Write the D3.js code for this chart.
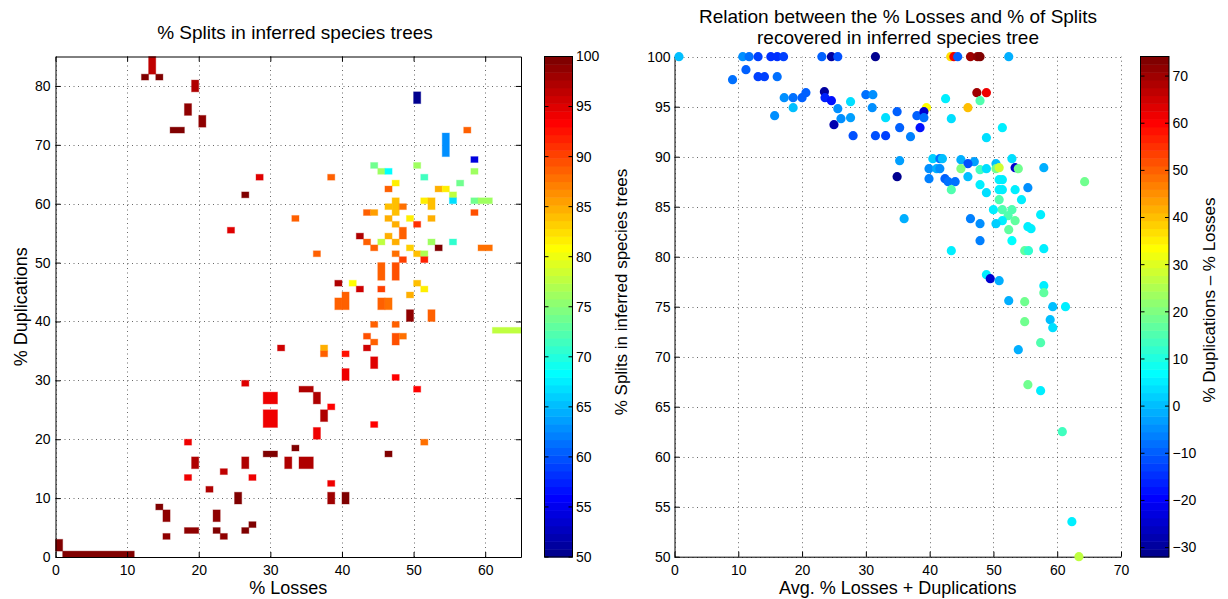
<!DOCTYPE html>
<html><head><meta charset="utf-8">
<script src="https://cdn.jsdelivr.net/npm/d3@7"></script>
<style>
body{margin:0;background:#fff;}
svg{display:block;font-family:"Liberation Sans",Arial,Helvetica,sans-serif;}
</style></head><body>
<svg id="chart" width="1228" height="599"></svg>
<script>
// ---------- DATA: left panel (cells of % Losses x % Duplications, coloured by % Splits) ----------
const cellLossLo = [13,12,14,19,18,20,16,28,26,24,50,57,54,58,44,45,46,50,51,38,47,46,53,54,56,55,55,58,59,58,51,52,47,48,46,43,44,33,46,49,52,58,47,50,48,42,46,43,45,47,44,49,52,53,55,59,36,47,50,51,48,51,45,47,39,41,42,45,50,51,49,40,39,45,46,49,52,44,47,43,47,48,44,43,31,37,37,40,44,40,47,50,34,36,38,37,44,36,51,33,46,32,34,38,38,40,61,26,29,29,29,26,23,27,18,19,18,21,25,14,15,22,18,22,26,27,15,23,1,0];
const cellLossHi = [14,13,15,20,19,21,18,29,27,25,51,58,55,59,45,46,47,51,52,39,48,47,54,55,57,56,56,59,61,59,52,53,48,49,47,44,45,34,47,50,53,59,48,51,49,43,47,44,46,48,45,50,53,54,56,61,37,48,51,52,49,52,46,48,40,42,43,46,51,52,50,41,40,46,47,50,53,45,48,44,48,49,45,44,32,38,38,41,45,41,48,51,36,37,39,38,45,37,52,34,47,33,36,39,39,41,65,27,31,31,31,27,24,28,19,20,19,22,26,15,16,23,20,23,27,28,16,24,11,1];
const cellDupLo  = [82,81,81,79,75,73,72,64,61,55,77,72,68,67,66,65,65,66,64,64,63,62,62,62,63,61,60,60,60,65,60,59,58,59,59,58,58,57,57,57,57,58,56,56,54,54,54,53,53,53,52,52,53,52,53,52,51,51,51,51,50,50,47,47,46,46,45,45,46,45,44,42,42,42,42,40,40,39,39,37,36,37,36,35,35,35,34,34,32,30,30,28,28,26,25,23,22,20,19,18,17,15,15,12,9,9,38,29,26,22,17,15,14,13,19,15,13,11,9,8,6,6,4,4,4,5,3,3,0,1];
const cellDupHi  = [85,82,82,81,77,75,73,65,62,56,79,73,72,68,67,66,66,67,65,65,64,63,63,63,64,62,61,61,61,66,61,61,61,60,60,59,59,58,58,58,58,59,57,57,56,55,55,54,54,54,53,53,54,53,54,53,52,52,52,52,51,51,50,50,47,47,46,46,47,46,45,45,44,44,44,42,42,40,40,38,38,38,37,36,36,36,35,35,34,32,31,29,29,28,26,25,23,22,20,19,18,17,17,13,11,11,39,30,28,25,18,17,15,14,20,17,14,12,11,9,8,8,5,5,5,6,4,4,1,3];
const cellSplits = [96.5,99.5,99.5,97.5,99,98.5,99.5,95,99.5,95,50,89,63,54,73.7,76,68,76.5,71.5,89,82,89,85,82,73.7,77.5,67,74,76,76,81.5,84,84,88,84,89,85.5,89,84.5,82,85,89.5,85,91,88.5,97,84.5,89,78,85,89,83.5,76,100,71,87.5,88.5,88,84,77,90,91.5,88.5,89.5,97,81,96,90.5,84,82,84.5,89,89,88.5,87.5,99,89,89,88.5,89.5,89.5,87.5,89,96,96,84.5,88.5,92.5,95,94.5,93,93,97,97.5,93,97,93,94,87.5,99.5,99.5,97,97,94,98,99.5,78,95,94,94.5,99.5,97,96.5,94,94,97,94,97.5,100,99.5,99,99,99,99.5,99.5,100,98.5,98.5,100,99.5];

// ---------- DATA: right panel (scatter) ----------
const ptAvgLossDup = [0.7,10.7,11.7,13.1,15.1,16.1,17.1,23.1,24.6,25.6,31.5,11.2,9.1,13.1,14.1,16.1,17.2,18.6,20.0,20.6,18.6,15.7,23.5,23.6,24.6,25.6,27.6,26.1,27.6,25.0,28.0,30.0,31.1,31.0,33.1,31.5,33.1,34.9,35.3,35.3,34.9,
  43.3,43.8,44.4,46.4,47.5,47.9,52.4,47.4,48.9,42.5,47.9,39.5,46.0,38.0,39.1,39.1,43.4,38.5,37.0,51.4,48.9,40.5,41.6,42.0,44.9,47.0,46.0,50.4,52.9,39.9,41.1,41.6,44.9,47.9,48.9,50.4,50.9,53.4,53.9,57.9,39.9,42.4,42.9,44.0,43.4,46.0,47.9,48.9,50.9,51.4,50.9,51.4,53.4,55.4,50.9,54.4,64.3,50.0,51.4,52.9,57.4,52.3,51.4,53.4,50.4,47.9,46.4,36.0,55.4,55.9,52.4,
  47.9,52.9,43.4,54.9,55.5,57.9,48.9,49.5,50.9,57.9,57.9,52.4,54.9,59.3,61.3,58.9,59.3,54.9,57.4,53.9,55.4,57.4,60.8,62.3,63.4];
const ptSplits = [100,100,100,100,100,100,100,100,100,100,100,98.7,97.7,98.0,98.0,98.0,95.9,95.9,95.9,96.4,94.9,94.1,96.5,95.9,95.6,94.8,95.5,93.8,93.9,93.2,92.1,96.2,96.2,94.9,93.9,92.1,92.1,94.5,92.9,89.6,88.0,
  100,100,100,100,100,100,100,96.4,96.4,95.8,95.6,94.9,94.9,94.1,94.5,93.9,93.8,92.9,92.0,92.9,91.9,89.8,89.8,89.8,89.7,89.5,89.3,89.3,89.8,88.8,88.8,88.8,88.8,88.7,88.8,88.8,88.9,88.9,88.8,88.9,87.8,87.8,87.5,87.5,86.7,88.0,87.2,86.4,87.7,87.7,86.7,86.7,86.7,86.9,85.7,85.7,87.5,84.7,84.7,84.7,84.2,84.1,83.6,83.6,83.3,83.3,83.8,83.8,83.0,82.8,82.7,
  81.6,81.6,80.6,80.6,80.6,80.8,78.2,77.8,77.6,77.1,76.4,75.6,75.5,75.0,75.0,73.7,72.9,73.5,71.4,70.7,67.2,66.6,62.5,53.5,50.0];
const ptDupMinusLoss = [1.0,-5.2,-8.3,-12.5,-14.6,-14.6,-12.5,-10.4,-30,-11.4,-31,-9.4,-8.3,-13.5,-13.5,-8.3,-5.2,-7.2,-10.4,-10.4,0,-4.2,-30,-16,-18,-5.2,4.2,-5.2,-3.1,-28.5,-11.4,-7.2,-5.2,-4.2,4.2,-11.4,-13.5,-9.4,-9.4,-3,-32,
  37,60.9,-10.4,70,72,74.15,-2,70,60.9,5.2,15,32.8,40.2,-10.4,-24.5,-8.3,4.2,-18.7,-6,5.2,3.1,2,-8.3,0,-2,-3.1,-12,1,4.2,-4.2,-1,-5.2,21,14,3.1,18.2,28.5,-24.5,18.2,-2,-6,-10,-8.3,-7.2,15,0,5.2,3.1,5.2,5.2,5.2,5.2,5.2,-4.2,15,5.2,18.2,5.2,15,15,5.2,15,5.2,16.1,2,-4.2,-6,-2,5.2,5.2,16.1,
  -6,6.2,5.2,16.1,12,5.2,5.2,-24.5,-1,5.2,16.1,-2,18.2,0,5.2,1,4.2,18.2,15,-2,18.2,5.2,14,5.2,27.6];

// ---------- tick values / labels ----------
const leftXTicks = [0,10,20,30,40,50,60];
const leftYTicks = [0,10,20,30,40,50,60,70,80];
const splitBarTicks = [50,55,60,65,70,75,80,85,90,95,100];
const rightXTicks = [0,10,20,30,40,50,60,70];
const rightYTicks = [50,55,60,65,70,75,80,85,90,95,100];
const diffBarTicks = [-30,-20,-10,0,10,20,30,40,50,60,70];
const leftTitle = "% Splits in inferred species trees";
const rightTitle = ["Relation between the % Losses and % of Splits","recovered in inferred species tree"];

// ---------- MATLAB jet(64) ----------
function jet64(){
  const n=64, m=16, u=[];
  for(let i=1;i<=m;i++)u.push(i/m);
  for(let i=0;i<m-1;i++)u.push(1);
  for(let i=m;i>=1;i--)u.push(i/m);
  const J=Array.from({length:n},()=>[0,0,0]);
  u.forEach((val,k)=>{const g=8+k+1, r=g+m, b=g-m;
    if(g>=1&&g<=n)J[g-1][1]=val; if(r>=1&&r<=n)J[r-1][0]=val; if(b>=1&&b<=n)J[b-1][2]=val;});
  return J.map(c=>d3.rgb(Math.round(c[0]*255),Math.round(c[1]*255),Math.round(c[2]*255)).formatHex());
}
const JET = jet64();

const svg = d3.select("#chart");
const FONT = "'Liberation Sans',Arial,Helvetica,sans-serif";
const TICKFS = 14;

function styleAxis(g){
  g.attr("font-family",FONT).attr("font-size",TICKFS);
  g.selectAll(".domain").attr("stroke","#000").attr("stroke-width",1);
  g.selectAll(".tick line").attr("stroke","#000").attr("stroke-width",1);
  g.selectAll(".tick text").attr("fill","#000");
}
function grid(g, xs, ys, xt, yt){
  const [x0,x1]=xs.range(), [y0,y1]=ys.range();
  g.selectAll("line.gx").data(xt).join("line").attr("class","gx")
    .attr("x1",d=>Math.round(xs(d))+0.5).attr("x2",d=>Math.round(xs(d))+0.5).attr("y1",y0).attr("y2",y1);
  g.selectAll("line.gy").data(yt).join("line").attr("class","gy")
    .attr("y1",d=>Math.round(ys(d))+0.5).attr("y2",d=>Math.round(ys(d))+0.5).attr("x1",x0).attr("x2",x1);
  g.selectAll("line").attr("stroke","#444").attr("stroke-width",1).attr("stroke-dasharray","1,3.5").attr("opacity",0.8);
}

// ================= LEFT PANEL =================
const xL = d3.scaleLinear().domain([0,65]).range([55.5,521]);
const yL = d3.scaleLinear().domain([0,85]).range([557,56.5]);
const cL = d3.scaleQuantize().domain(d3.extent(cellSplits)).range(JET);

grid(svg.append("g"), xL, yL, leftXTicks, leftYTicks);

const cells = cellSplits.map((v,i)=>({x0:cellLossLo[i],x1:cellLossHi[i],y0:cellDupLo[i],y1:cellDupHi[i],v}));
svg.append("g").selectAll("rect").data(cells).join("rect")
  .attr("x",d=>xL(d.x0)).attr("y",d=>yL(d.y1))
  .attr("width",d=>xL(d.x1)-xL(d.x0)).attr("height",d=>yL(d.y0)-yL(d.y1))
  .attr("fill",d=>cL(d.v)).attr("stroke",d=>cL(d.v)).attr("stroke-opacity",0.35).attr("stroke-width",1);

svg.append("g").attr("transform",`translate(0,${yL(0)})`)
  .call(d3.axisBottom(xL).tickValues(leftXTicks).tickSizeInner(-5).tickSizeOuter(0).tickPadding(8)).call(styleAxis);
svg.append("g").attr("transform",`translate(0,${yL(85)})`)
  .call(d3.axisTop(xL).tickValues(leftXTicks).tickFormat("").tickSizeInner(-5).tickSizeOuter(0)).call(styleAxis);
svg.append("g").attr("transform",`translate(${xL(0)},0)`)
  .call(d3.axisLeft(yL).tickValues(leftYTicks).tickSizeInner(-5).tickSizeOuter(0).tickPadding(5)).call(styleAxis);
svg.append("g").attr("transform",`translate(${xL(65)},0)`)
  .call(d3.axisRight(yL).tickValues(leftYTicks).tickFormat("").tickSizeInner(-5).tickSizeOuter(0)).call(styleAxis);

svg.append("text").attr("x",295).attr("y",39).attr("text-anchor","middle")
  .attr("font-size",19).attr("font-family",FONT).text(leftTitle);
svg.append("text").attr("x",(xL(0)+xL(65))/2).attr("y",594).attr("text-anchor","middle")
  .attr("font-size",18).attr("font-family",FONT).text("% Losses");
svg.append("text").attr("transform",`translate(27,${(yL(0)+yL(85))/2}) rotate(-90)`).attr("text-anchor","middle")
  .attr("font-size",18).attr("font-family",FONT).text("% Duplications");

// left colorbar
function colorbar(x0,x1,scale,ticks,fmt){
  const [lo,hi]=scale.domain();
  const yb = d3.scaleLinear().domain([lo,hi]).range([557,56.5]);
  const step=(hi-lo)/64;
  const g=svg.append("g");
  g.selectAll("rect.band").data(d3.range(64)).join("rect").attr("class","band")
    .attr("x",x0).attr("width",x1-x0)
    .attr("y",i=>yb(lo+(i+1)*step)).attr("height",i=>yb(lo+i*step)-yb(lo+(i+1)*step)+0.5)
    .attr("fill",i=>JET[i]);
  g.append("rect").attr("x",x0).attr("y",yb(hi)).attr("width",x1-x0).attr("height",yb(lo)-yb(hi))
    .attr("fill","none").attr("stroke","#000").attr("stroke-width",1);
  const t=g.selectAll("g.t").data(ticks).join("g").attr("class","t").attr("transform",d=>`translate(0,${yb(d)})`);
  t.append("line").attr("x1",x0).attr("x2",x0+4).attr("stroke","#000");
  t.append("line").attr("x1",x1-4).attr("x2",x1).attr("stroke","#000");
  t.append("text").attr("x",x1+3.5).attr("dy","0.35em").attr("font-size",TICKFS).attr("font-family",FONT).text(fmt);
  return g;
}
colorbar(544.5,572.5,cL,splitBarTicks,d=>d);
svg.append("text").attr("transform",`translate(626.5,292) rotate(-90)`).attr("text-anchor","middle")
  .attr("font-size",17).attr("font-family",FONT).text("% Splits in inferred species trees");

// ================= RIGHT PANEL =================
const xR = d3.scaleLinear().domain([0,70]).range([674.5,1121]);
const yR = d3.scaleLinear().domain([50,100]).range([556.7,56.7]);
const cR = d3.scaleQuantize().domain(d3.extent(ptDupMinusLoss)).range(JET);

grid(svg.append("g"), xR, yR, rightXTicks, rightYTicks);

svg.append("g").attr("transform",`translate(0,${yR(50)})`)
  .call(d3.axisBottom(xR).tickValues(rightXTicks).tickSizeInner(-5).tickSizeOuter(0).tickPadding(8)).call(styleAxis);
svg.append("g").attr("transform",`translate(${xR(0)},0)`)
  .call(d3.axisLeft(yR).tickValues(rightYTicks).tickSizeInner(-5).tickSizeOuter(0).tickPadding(4)).call(styleAxis);

const pts = ptSplits.map((s,i)=>({x:ptAvgLossDup[i],y:s,c:ptDupMinusLoss[i]}));
svg.append("g").selectAll("circle").data(pts).join("circle")
  .attr("cx",d=>xR(d.x)).attr("cy",d=>yR(d.y)).attr("r",4.6).attr("fill",d=>cR(d.c));

svg.append("text").attr("x",898).attr("y",22.5).attr("text-anchor","middle")
  .attr("font-size",19).attr("font-family",FONT).text(rightTitle[0]);
svg.append("text").attr("x",898).attr("y",44.2).attr("text-anchor","middle")
  .attr("font-size",19).attr("font-family",FONT).text(rightTitle[1]);
svg.append("text").attr("x",(xR(0)+xR(70))/2).attr("y",594).attr("text-anchor","middle")
  .attr("font-size",18).attr("font-family",FONT).text("Avg. % Losses + Duplications");

colorbar(1140.5,1169,cR,diffBarTicks,d=>d<0?"\u2212"+Math.abs(d):d);
svg.append("text").attr("transform",`translate(1215,300) rotate(-90)`).attr("text-anchor","middle")
  .attr("font-size",17).attr("font-family",FONT).text("% Duplications \u2013 % Losses");
</script>
</body></html>
